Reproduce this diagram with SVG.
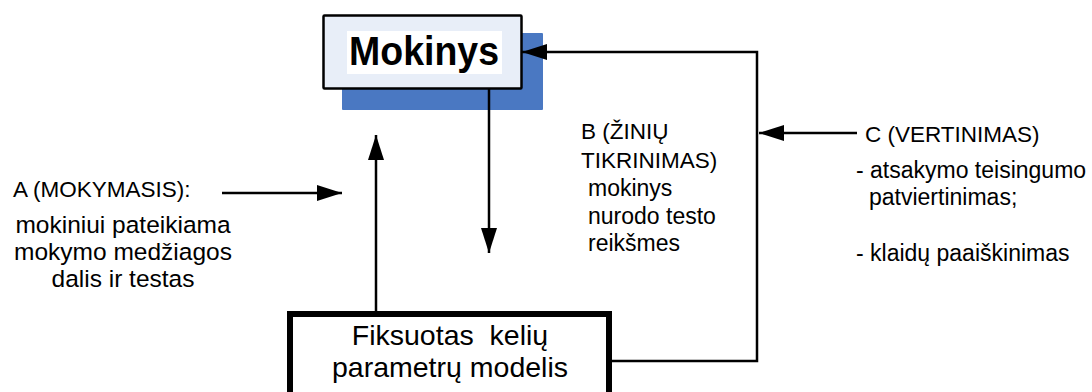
<svg xmlns="http://www.w3.org/2000/svg" width="1092" height="392" viewBox="0 0 1092 392">
<style>
  text { font-family: "Liberation Sans", Arial, sans-serif; fill: #000; }
  .hd { font-size: 22.5px; }
  .bd { font-size: 24.5px; }
  .sm { font-size: 23px; }
  .big { font-size: 28.5px; }
  .conn { stroke: #000; stroke-width: 2.5; fill: none; }
</style>
<defs>
  <marker id="ah" markerUnits="userSpaceOnUse" markerWidth="25" markerHeight="16" refX="25" refY="8" orient="auto">
    <path d="M0,0 L25,8 L0,16 z" fill="#000"/>
  </marker>
</defs>
<rect width="1092" height="392" fill="#fff"/>

<g id="mokinys">
  <rect x="342" y="33" width="201" height="77" rx="1" fill="#4A78C2"/>
  <rect x="323.5" y="15.5" width="198" height="73" rx="1" fill="#E8EEF8" stroke="#000" stroke-width="2.5"/>
  <rect x="347" y="31" width="155" height="43" fill="#fff"/>
  <text x="349" y="65" font-size="41" font-weight="bold" textLength="150" lengthAdjust="spacingAndGlyphs">Mokinys</text>
</g>

<g id="modelis">
  <rect x="290" y="314" width="319" height="92" fill="#fff" stroke="#000" stroke-width="6"/>
  <text class="big" x="450" y="345" text-anchor="middle" xml:space="preserve">Fiksuotas  kelių</text>
  <text class="big" x="450" y="377" text-anchor="middle">parametrų modelis</text>
</g>

<g id="labelA">
  <text class="hd" x="13" y="197">A (MOKYMASIS):</text>
  <text class="bd" x="123" y="233" text-anchor="middle">mokiniui pateikiama</text>
  <text class="bd" x="123" y="260" text-anchor="middle">mokymo medžiagos</text>
  <text class="bd" x="123" y="287" text-anchor="middle">dalis ir testas</text>
</g>

<g id="labelB">
  <text class="hd" x="581" y="139">B (ŽINIŲ</text>
  <text class="hd" x="581" y="168">TIKRINIMAS)</text>
  <text class="sm" x="588" y="196">mokinys</text>
  <text class="sm" x="588" y="224">nurodo testo</text>
  <text class="sm" x="588" y="251">reikšmes</text>
</g>

<g id="labelC">
  <text class="hd" x="865" y="142">C (VERTINIMAS)</text>
  <text class="sm" x="856" y="178">- atsakymo teisingumo</text>
  <text class="sm" x="869" y="205">patviertinimas;</text>
  <text class="sm" x="856" y="261">- klaidų paaiškinimas</text>
</g>

<g id="connectors">
  <line class="conn" x1="489" y1="89" x2="489" y2="253" marker-end="url(#ah)"/>
  <line class="conn" x1="376" y1="311" x2="376" y2="135" marker-end="url(#ah)"/>
  <line class="conn" x1="222" y1="193" x2="342" y2="193" marker-end="url(#ah)"/>
  <polyline class="conn" stroke-width="2" points="612,361 757,361 757,52 522,52" marker-end="url(#ah)"/>
  <line class="conn" stroke-width="2" x1="857" y1="133" x2="759" y2="133" marker-end="url(#ah)"/>
</g>
</svg>
